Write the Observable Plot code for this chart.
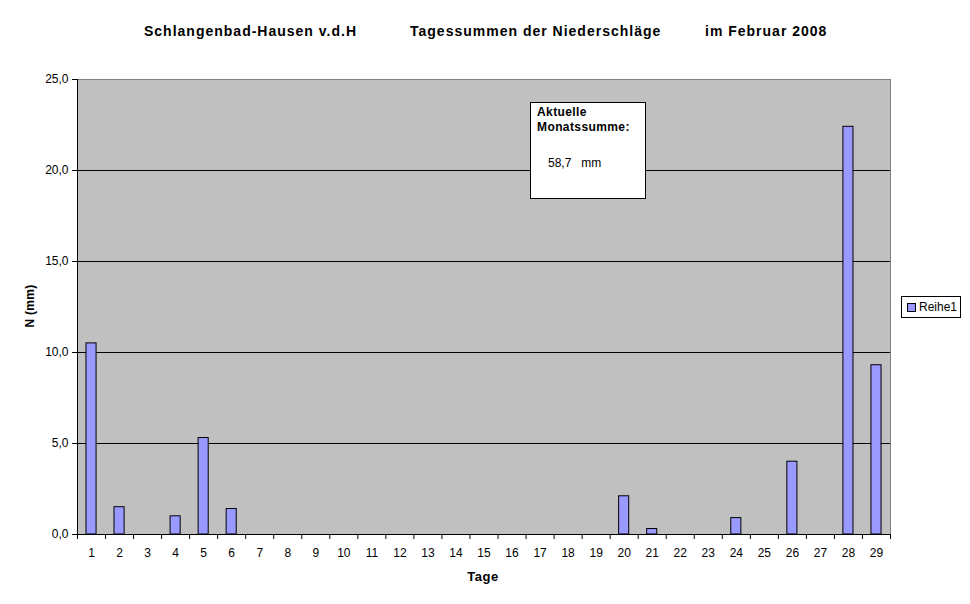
<!DOCTYPE html>
<html>
<head>
<meta charset="utf-8">
<script src="https://cdn.jsdelivr.net/npm/d3@7"></script>
<script src="https://cdn.jsdelivr.net/npm/@observablehq/plot@0.6"></script>
<style>
  html, body { margin: 0; padding: 0; background: #fff; }
  #wrap { position: relative; width: 970px; height: 604px; font-family: "Liberation Sans", Arial, sans-serif; }
  #wrap svg { position: absolute; left: 0; top: 0; }
  .title { position: absolute; top: 23px; font-size: 14px; font-weight: bold; white-space: nowrap; letter-spacing: 1px; }
  .ytitle { position: absolute; left: 30px; top: 306px; transform: translate(-50%, -50%) rotate(-90deg); font-size: 12px; font-weight: bold; white-space: nowrap; letter-spacing: 0.3px; }
  .xtitle { position: absolute; left: 483px; top: 576px; transform: translate(-50%, -50%); font-size: 13px; font-weight: bold; letter-spacing: 0.5px; }
  .note { position: absolute; left: 530px; top: 102px; width: 114px; height: 95px; background: #fff; border: 1px solid #000; font-size: 12px; }
  .legend { position: absolute; left: 901px; top: 296px; width: 58px; height: 20px; background: #fff; border: 1px solid #000; font-size: 12px; }
</style>
</head>
<body>
<div id="wrap"></div>
<script>
const days = d3.range(1, 30);
const values = [10.5, 1.5, 0, 1.0, 5.3, 1.4, 0, 0, 0, 0, 0, 0, 0, 0, 0, 0, 0, 0, 0, 2.1, 0.3, 0, 0, 0.9, 0, 4.0, 0, 22.4, 9.3];
const yTicks = [0, 5, 10, 15, 20, 25];
const titleParts = ["Schlangenbad-Hausen v.d.H", "Tagessummen der Niederschläge", "im Februar 2008"];
const seriesName = "Reihe1";
const monthSum = "58,7";

const data = days.map((d, i) => ({day: d, v: values[i]})).filter(d => d.v > 0);
const boundaries = d3.range(0, 30).map(d => d + 0.5);
const comma = d => d.toFixed(1).replace(".", ",");

const chart = Plot.plot({
  width: 970,
  height: 604,
  marginLeft: 77,
  marginRight: 80,
  marginTop: 79,
  marginBottom: 70,
  style: {fontFamily: "Liberation Sans, Arial, sans-serif", fontSize: "12px", color: "#000", background: "transparent"},
  x: {type: "linear", domain: [0.5, 29.5]},
  y: {domain: [0, 25]},
  marks: [
    Plot.frame({fill: "#c0c0c0", stroke: "#808080"}),
    Plot.ruleY(yTicks.filter(t => t > 0 && t < 25), {stroke: "#000"}),
    Plot.rectY(data, {x1: d => d.day - 0.18, x2: d => d.day + 0.18, y: "v", fill: "#9999ff", stroke: "#000"}),
    Plot.ruleX([0.5], {stroke: "#000"}),
    Plot.ruleY([0], {stroke: "#000"}),
    Plot.axisY({ticks: yTicks, tickFormat: comma, tickSize: 5, tickPadding: 4, label: null, fontSize: 12}),
    Plot.axisX({ticks: days, tickFormat: d => String(d), tickSize: 0, tickPadding: 14, label: null, fontSize: 12}),
    Plot.axisX({ticks: boundaries, tickFormat: () => "", tickSize: 5, label: null})
  ]
});

const wrap = document.getElementById("wrap");
wrap.appendChild(chart);

const lefts = [144, 410, 705];
titleParts.forEach((t, i) => {
  const el = document.createElement("div");
  el.className = "title";
  el.style.left = lefts[i] + "px";
  el.textContent = t;
  wrap.appendChild(el);
});

const yt = document.createElement("div");
yt.className = "ytitle"; yt.textContent = "N (mm)"; wrap.appendChild(yt);
const xt = document.createElement("div");
xt.className = "xtitle"; xt.textContent = "Tage"; wrap.appendChild(xt);

const note = document.createElement("div");
note.className = "note";
note.innerHTML = '<div style="position:absolute;left:6px;top:2px;font-weight:bold;line-height:15px;letter-spacing:0.4px;">Aktuelle<br>Monatssumme:</div>' +
  '<div style="position:absolute;left:17px;top:53px;">' + monthSum + '&nbsp;&nbsp; mm</div>';
wrap.appendChild(note);

const leg = document.createElement("div");
leg.className = "legend";
leg.innerHTML = '<div style="position:absolute;left:5px;top:6px;width:7px;height:7px;background:#9999ff;border:1px solid #000;"></div>' +
  '<div style="position:absolute;left:17px;top:3px;">' + seriesName + '</div>';
wrap.appendChild(leg);
</script>
</body>
</html>
